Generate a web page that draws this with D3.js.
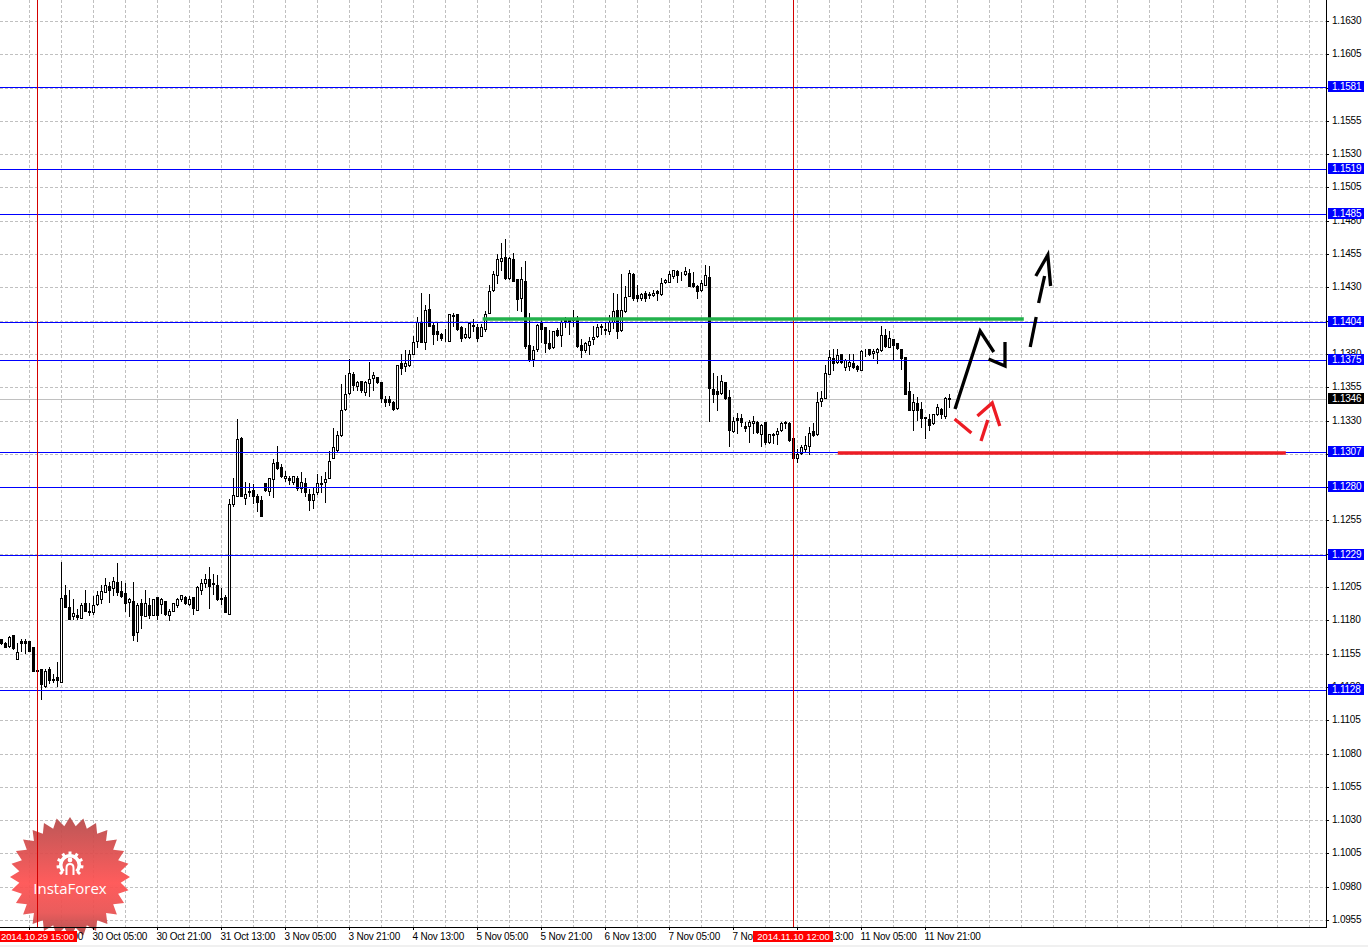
<!DOCTYPE html>
<html lang="en">
    <head>
        <meta charset="utf-8">
        <title>EUR/USD H1</title>
        <script src="https://cdnjs.cloudflare.com/ajax/libs/d3/7.8.5/d3.min.js"></script>
        <style>
            html, body { margin: 0; padding: 0; background: #fff; overflow: hidden; }
            svg { display: block; }
            text { font-family: "Liberation Sans", Arial, sans-serif; font-size: 10px; letter-spacing: -0.22px; }
        </style>
    </head>
    <body>
        <div id="chart"></div>
        <script>
            // hourly bars, prices in points (1e-5)
            var opens = [
                111663,111633,111608,111688,111513,111643,111643,111643,111598,111425,
                111433,111308,111433,111360,111373,111338,111988,111898,111833,111843,
                111818,111928,111873,111863,111923,111963,112013,112055,112043,112088,
                112023,112003,111938,111943,111713,111928,111833,111913,111843,111973,
                111923,111943,111838,111868,111918,111963,111973,111923,111973,111878,
                112028,112078,112108,112080,112063,111966,111973,111848,112676,112731,
                113171,112716,112773,112781,112736,112706,112831,112768,112861,112991,
                112951,112866,112871,112836,112871,112796,112831,112751,112701,112761,
                112831,112836,112866,113016,113081,113191,113386,113506,113651,113556,
                113596,113518,113581,113616,113626,113586,113461,113461,113441,113396,
                113733,113708,113718,113803,113898,114043,113893,114138,114018,113973,
                113953,113916,113898,114093,114103,114003,113926,113928,114018,114003,
                113938,113988,114108,114278,114393,114496,114528,114368,114513,114363,
                114218,114348,113868,113763,113838,114033,114003,113883,113853,113978,
                113943,114056,114056,114073,114058,113868,113828,113868,113913,113938,
                114011,113986,113973,114038,114133,113978,114123,114238,114403,114243,
                114218,114258,114251,114241,114276,114248,114338,114343,114388,114423,
                114411,114403,114408,114333,114313,114278,114318,114378,113538,113523,
                113506,113591,113476,113221,113316,113316,113261,113256,113281,113291,
                113201,113286,113136,113198,113196,113226,113288,113281,113171,113016,
                113056,113086,113111,113221,113196,113446,113471,113646,113771,113736,
                113801,113701,113706,113731,113706,113681,113833,113836,113806,113818,
                113831,113941,113856,113911,113881,113836,113776,113521,113376,113431,
                113386,113323,113311,113281,113351,113386,113336,113463
            ];
            var highs = [
                111663,111638,111683,111688,111628,111663,111658,111643,111598,111428,
                111433,111433,111453,111398,111488,112238,112063,112028,111958,111883,
                111933,112028,111928,111983,112020,112063,112118,112088,112123,112228,
                112093,112083,111968,112088,111928,111963,112028,111970,111963,111973,
                111968,111948,111883,111933,111968,111993,111983,111983,111973,112058,
                112113,112148,112198,112148,112138,112043,111988,112711,112871,113311,
                113176,112836,112831,112821,112746,112731,112831,112868,113011,113111,
                112976,112921,112886,112886,112881,112916,112866,112786,112791,112896,
                112886,112916,113071,113241,113221,113571,113641,113761,113661,113596,
                113596,113596,113741,113661,113626,113586,113486,113481,113446,113716,
                113803,113828,113828,113933,114078,114258,114168,114253,114043,114043,
                113958,113988,114103,114108,114103,114013,113993,114038,114063,114023,
                114023,114123,114321,114423,114553,114633,114663,114528,114558,114363,
                114453,114498,114108,113863,114023,114053,114003,113983,113973,113993,
                114058,114078,114073,114133,114088,113913,113888,113928,114013,114023,
                114023,114033,114093,114258,114248,114403,114308,114433,114408,114318,
                114258,114273,114268,114283,114278,114368,114363,114423,114433,114433,
                114413,114453,114438,114413,114321,114358,114471,114458,113658,113633,
                113641,113591,113526,113326,113356,113351,113291,113301,113331,113296,
                113276,113286,113201,113206,113241,113286,113296,113286,113171,113086,
                113116,113181,113251,113281,113511,113521,113716,113831,113836,113836,
                113801,113761,113796,113801,113716,113831,113836,113841,113841,113846,
                114011,113986,113971,113916,113886,113836,113776,113591,113496,113476,
                113441,113326,113346,113351,113421,113396,113476,113501
            ];
            var lows = [
                111623,111598,111598,111583,111508,111568,111558,111568,111423,111415,
                111208,111298,111328,111338,111308,111338,111898,111808,111808,111813,
                111818,111868,111843,111848,111918,111933,112013,111938,111988,111988,
                111978,111868,111833,111653,111648,111743,111833,111818,111838,111808,
                111853,111843,111803,111868,111903,111948,111923,111918,111848,111878,
                111996,112048,111893,111996,111953,111923,111863,111848,112656,112731,
                112731,112671,112731,112681,112621,112581,112771,112743,112726,112936,
                112876,112846,112826,112826,112776,112761,112736,112626,112641,112746,
                112761,112686,112866,113016,113071,113186,113381,113501,113526,113526,
                113516,113493,113486,113531,113581,113436,113406,113416,113381,113386,
                113646,113673,113713,113798,113853,113893,113838,114008,113878,113908,
                113908,113896,113898,114013,113983,113898,113918,113923,113973,113898,
                113933,113973,114108,114273,114333,114428,114363,114363,114348,114128,
                114123,113848,113748,113708,113823,113893,113818,113838,113848,113938,
                113858,114003,113953,114008,113853,113778,113818,113803,113873,113928,
                113953,113953,113953,113993,113918,113973,114118,114233,114203,114198,
                114203,114198,114218,114238,114208,114243,114333,114338,114368,114343,
                114358,114393,114308,114303,114218,114273,114318,113293,113443,113383,
                113496,113461,113111,113216,113206,113256,113221,113141,113206,113206,
                113106,113126,113131,113131,113126,113221,113246,113146,113021,112991,
                113051,113066,113051,113186,113191,113406,113466,113646,113681,113731,
                113731,113681,113676,113691,113671,113676,113786,113791,113766,113731,
                113826,113856,113856,113761,113841,113686,113501,113381,113231,113306,
                113251,113166,113231,113276,113341,113321,113321,113401
            ];
            var closes = [
                111633,111603,111673,111593,111563,111630,111630,111573,111423,111420,
                111323,111423,111353,111355,111353,111971,111898,111813,111853,111828,
                111913,111868,111863,111913,111988,112023,112063,112028,112093,112013,
                111983,111928,111958,111693,111913,111838,111928,111838,111963,111843,
                111958,111848,111868,111933,111958,111988,111928,111963,111893,112048,
                112078,112113,112058,112075,111963,111961,111863,112673,112741,113161,
                112731,112748,112761,112736,112686,112581,112776,112868,112981,112941,
                112881,112886,112851,112886,112791,112841,112761,112706,112751,112831,
                112821,112861,112996,113101,113191,113381,113501,113656,113566,113588,
                113526,113588,113611,113641,113586,113466,113441,113441,113386,113716,
                113698,113733,113803,113893,114043,113893,114133,114008,113953,113953,
                113918,113911,114101,114088,113988,113918,113951,114033,114008,113923,
                114003,114101,114273,114398,114513,114521,114373,114521,114348,114213,
                114363,113858,113763,113833,114018,113988,113883,113843,113973,113943,
                114043,114051,114051,114053,113858,113833,113883,113898,113928,114003,
                114006,113981,114043,114123,113973,114133,114228,114408,114223,114223,
                114248,114223,114246,114258,114258,114333,114358,114403,114428,114393,
                114406,114423,114313,114313,114271,114333,114393,113548,113503,113498,
                113596,113466,113226,113296,113306,113286,113246,113291,113296,113216,
                113266,113136,113196,113193,113221,113281,113283,113156,113021,113046,
                113101,113116,113206,113191,113436,113466,113656,113776,113731,113791,
                113736,113751,113741,113701,113686,113826,113828,113796,113826,113836,
                113941,113861,113921,113866,113846,113766,113501,113381,113441,113376,
                113316,113316,113266,113346,113401,113346,113471,113468
            ];

            // right axis, every 25 pips
            var priceTicks = [1.1630,1.1605,1.1580,1.1555,1.1530,1.1505,1.1480,1.1455,1.1430,1.1405,
                1.1380,1.1355,1.1330,1.1305,1.1280,1.1255,1.1230,1.1205,1.1180,1.1155,1.1130,
                1.1105,1.1080,1.1055,1.1030,1.1005,1.0980,1.0955];
            // time axis: bar index -> label
            var timeTicks = [7,23,39,55,71,87,103,119,135,151,167,183,199,215,231];
            var timeLabels = ["29 Oct 13:00","30 Oct 05:00","30 Oct 21:00","31 Oct 13:00","3 Nov 05:00",
                "3 Nov 21:00","4 Nov 13:00","5 Nov 05:00","5 Nov 21:00","6 Nov 13:00","7 Nov 05:00",
                "7 Nov 21:00","10 Nov 13:00","11 Nov 05:00","11 Nov 21:00"];

            // horizontal levels
            var levelPrices = [1.15805,1.1519,1.1485,1.1404,1.13754,1.13065,1.1280,1.1229,1.1128];
            var levelLabels = ["1.1581","1.1519","1.1485","1.1404","1.1375","1.1307","1.1280","1.1229","1.1128"];
            var lastPrice = 1.1346;
            var lastLabel = "1.1346";

            // crosshair bars
            var cursorBars = [9,198];
            var cursorLabels = ["2014.10.29 15:00","2014.11.10 12:00"];

            // hand drawn stuff, [bar, price]
            var greenLine = [[120.4,1.14062],[255.7,1.14062]];
            var redLine = [[209.2,1.13055],[321.2,1.13055]];
            var blackStrokes = [
                [[238.5,1.1339],[244.8,1.13976],[248.2,1.13816]],
                [[246.9,1.13763],[251,1.13711],[251,1.13889]],
                [[257.3,1.13851],[258.8,1.14081]],
                [[259.4,1.14182],[260.9,1.14382]],
                [[258.7,1.14382],[261.7,1.14545],[262.4,1.14312]]
            ];
            var redStrokes = [
                [[238.4,1.1331],[242.6,1.13209]],
                [[245,1.13147],[246.7,1.13305]],
                [[244.1,1.13335],[247.8,1.13435],[249.7,1.1326]]
            ];

            var width = 1368;
            var height = 947;
            var axisX = 1326;
            var axisY = 927;

            var bars = opens.map(function(d, i) {
                return {i: i, open: d / 1e5, high: highs[i] / 1e5, low: lows[i] / 1e5, close: closes[i] / 1e5};
            });

            var x = d3.scaleLinear().domain([0, 330]).range([1, 1321]);
            var y = d3.scaleLinear().domain([1.0955, 1.1630]).rangeRound([920, 21]);

            var svg = d3.select("#chart").append("svg")
                .attr("width", width)
                .attr("height", height);

            svg.append("rect")
                .attr("y", 945).attr("width", width).attr("height", 2)
                .attr("fill", "#f0f0f0");

            // grid
            var grid = svg.append("g")
                .attr("stroke", "#c0c0c0")
                .attr("stroke-dasharray", "3,2")
                .attr("shape-rendering", "crispEdges");
            grid.selectAll("line.h").data(priceTicks).enter().append("line")
                .attr("class", "h")
                .attr("x1", 0).attr("x2", axisX)
                .attr("y1", function(d) { return y(d) + 0.5; })
                .attr("y2", function(d) { return y(d) + 0.5; });
            grid.selectAll("line.v").data(d3.range(7, 331, 8)).enter().append("line")
                .attr("class", "v")
                .attr("y1", 0).attr("y2", axisY)
                .attr("x1", function(d) { return x(d) + 0.5; })
                .attr("x2", function(d) { return x(d) + 0.5; });

            // logo
            var logo = svg.append("g").attr("transform", "translate(70,877)");
            var grad = svg.append("defs").append("linearGradient")
                .attr("id", "star").attr("x1", 0).attr("x2", 0).attr("y1", 0).attr("y2", 1);
            grad.append("stop").attr("offset", "0%").attr("stop-color", "#b64a4a");
            grad.append("stop").attr("offset", "55%").attr("stop-color", "#ff5050");
            grad.append("stop").attr("offset", "80%").attr("stop-color", "#e85050");
            grad.append("stop").attr("offset", "100%").attr("stop-color", "#a84444");
            var starPts = d3.range(56).map(function(k) {
                var a = k * Math.PI / 28;
                var r = k % 2 ? 51 : 60;
                return [r * Math.sin(a), -r * Math.cos(a)];
            });
            logo.append("path")
                .attr("d", "M" + starPts.join("L") + "Z")
                .attr("fill", "url(#star)")
                .attr("fill-opacity", 0.93);
            var gear = logo.append("g").attr("transform", "translate(0,-12)");
            gear.append("path")
                .attr("d", d3.arc()({innerRadius: 7.5, outerRadius: 11, startAngle: -2.35, endAngle: 2.35}))
                .attr("fill", "#fff");
            gear.selectAll("line.tooth").data(d3.range(-2.3, 2.4, 0.575)).enter().append("line")
                .attr("class", "tooth")
                .attr("x1", function(a) { return 10 * Math.sin(a); })
                .attr("y1", function(a) { return -10 * Math.cos(a); })
                .attr("x2", function(a) { return 13.5 * Math.sin(a); })
                .attr("y2", function(a) { return -13.5 * Math.cos(a); })
                .attr("stroke", "#fff").attr("stroke-width", 3);
            gear.append("circle").attr("cy", -5).attr("r", 2.4).attr("fill", "#fff");
            gear.append("path")
                .attr("d", "M-3.5,10V3Q-3.5,-1 0,-1Q3.5,-1 3.5,3V10")
                .attr("fill", "none").attr("stroke", "#fff").attr("stroke-width", 2);
            logo.append("text")
                .attr("text-anchor", "middle").attr("y", 17)
                .attr("fill", "#fff")
                .style("font-family", "'Open Sans', sans-serif")
                .style("font-size", "15px")
                .style("letter-spacing", "0")
                .text("InstaForex");

            // price line
            svg.append("line")
                .attr("x1", 0).attr("x2", axisX)
                .attr("y1", y(lastPrice) + 0.5).attr("y2", y(lastPrice) + 0.5)
                .attr("stroke", "#c0c0c0")
                .attr("shape-rendering", "crispEdges");

            // candles
            var candle = svg.append("g").attr("shape-rendering", "crispEdges")
                .selectAll("g").data(bars).enter().append("g");
            candle.append("line")
                .attr("x1", function(d) { return x(d.i) + 0.5; })
                .attr("x2", function(d) { return x(d.i) + 0.5; })
                .attr("y1", function(d) { return y(d.high); })
                .attr("y2", function(d) { return y(d.low) + 1; })
                .attr("stroke", "#000");
            candle.append("rect")
                .attr("x", function(d) { return x(d.i) - 0.5; })
                .attr("y", function(d) { return Math.min(y(d.open), y(d.close)) + 0.5; })
                .attr("width", 2)
                .attr("height", function(d) { return Math.abs(y(d.open) - y(d.close)); })
                .attr("stroke", "#000")
                .attr("fill", function(d) { return d.close >= d.open ? "#fff" : "#000"; });

            // levels
            svg.append("g").attr("shape-rendering", "crispEdges")
                .selectAll("line").data(levelPrices).enter().append("line")
                .attr("x1", 0).attr("x2", axisX)
                .attr("y1", function(d) { return y(d) + 0.5; })
                .attr("y2", function(d) { return y(d) + 0.5; })
                .attr("stroke", "#0000ff");

            // crosshair
            svg.append("g").attr("shape-rendering", "crispEdges")
                .selectAll("line").data(cursorBars).enter().append("line")
                .attr("x1", function(d) { return x(d) + 0.5; })
                .attr("x2", function(d) { return x(d) + 0.5; })
                .attr("y1", 0).attr("y2", axisY)
                .attr("stroke", "#d40000");

            // drawings
            var line = d3.line()
                .x(function(d) { return x(d[0]); })
                .y(function(d) { return y(d[1]); });
            svg.append("path").attr("d", line(greenLine))
                .attr("fill", "none").attr("stroke", "#22b14c").attr("stroke-width", 3.5);
            svg.append("path").attr("d", line(redLine))
                .attr("fill", "none").attr("stroke", "#ed1c24").attr("stroke-width", 3.5);
            svg.selectAll("path.black").data(blackStrokes).enter().append("path")
                .attr("class", "black")
                .attr("d", line)
                .attr("fill", "none").attr("stroke", "#000").attr("stroke-width", 3.3);
            svg.selectAll("path.red").data(redStrokes).enter().append("path")
                .attr("class", "red")
                .attr("d", line)
                .attr("fill", "none").attr("stroke", "#ed1c24").attr("stroke-width", 3.3);

            // axes
            var yAxis = d3.axisRight(y)
                .tickValues(priceTicks)
                .tickFormat(d3.format(".4f"))
                .tickSize(3)
                .tickPadding(3);
            var xAxis = d3.axisBottom(x)
                .tickValues(timeTicks)
                .tickFormat(function(d) { return timeLabels[timeTicks.indexOf(d)]; })
                .tickSize(3)
                .tickPadding(3);

            var yg = svg.append("g").attr("transform", "translate(" + axisX + ",0)").call(yAxis);
            var xg = svg.append("g").attr("transform", "translate(0," + axisY + ")").call(xAxis);
            yg.select(".domain").remove();
            xg.select(".domain").remove();
            yg.attr("font-family", null).attr("font-size", null);
            xg.attr("font-family", null).attr("font-size", null);
            yg.selectAll("text").attr("y", -1);
            xg.selectAll("text").attr("text-anchor", "start").attr("x", -1);
            svg.append("g").attr("stroke", "#000").attr("shape-rendering", "crispEdges")
                .call(function(g) {
                    g.append("line").attr("x1", axisX + 0.5).attr("x2", axisX + 0.5).attr("y1", 0).attr("y2", axisY + 1);
                    g.append("line").attr("x1", 0).attr("x2", axisX + 1).attr("y1", axisY + 0.5).attr("y2", axisY + 0.5);
                });

            // price tags
            var tags = levelPrices.map(function(d, i) {
                return {price: d, label: levelLabels[i], color: "#0000ff"};
            });
            tags.push({price: lastPrice, label: lastLabel, color: "#000"});
            var tag = svg.selectAll("g.tag").data(tags).enter().append("g").attr("class", "tag");
            tag.append("rect")
                .attr("x", axisX + 2)
                .attr("y", function(d) { return y(d.price) - 6; })
                .attr("width", 36)
                .attr("height", 11)
                .attr("fill", function(d) { return d.color; });
            tag.append("text")
                .attr("x", axisX + 6)
                .attr("y", function(d) { return y(d.price) + 3; })
                .attr("fill", "#fff")
                .text(function(d) { return d.label; });

            // crosshair time tags
            var timeTag = svg.selectAll("g.timetag").data(cursorBars).enter().append("g").attr("class", "timetag");
            timeTag.append("rect")
                .attr("x", function(d) { return x(d) - 40; })
                .attr("y", 931)
                .attr("width", 80)
                .attr("height", 11)
                .attr("fill", "#ff0000");
            timeTag.append("text")
                .attr("x", function(d) { return x(d) + 0.5; })
                .attr("y", 940)
                .attr("text-anchor", "middle")
                .attr("fill", "#fff")
                .style("font-size", "9.5px")
                .style("letter-spacing", "-0.05px")
                .text(function(d, i) { return cursorLabels[i]; });
        </script>
    </body>
</html>
